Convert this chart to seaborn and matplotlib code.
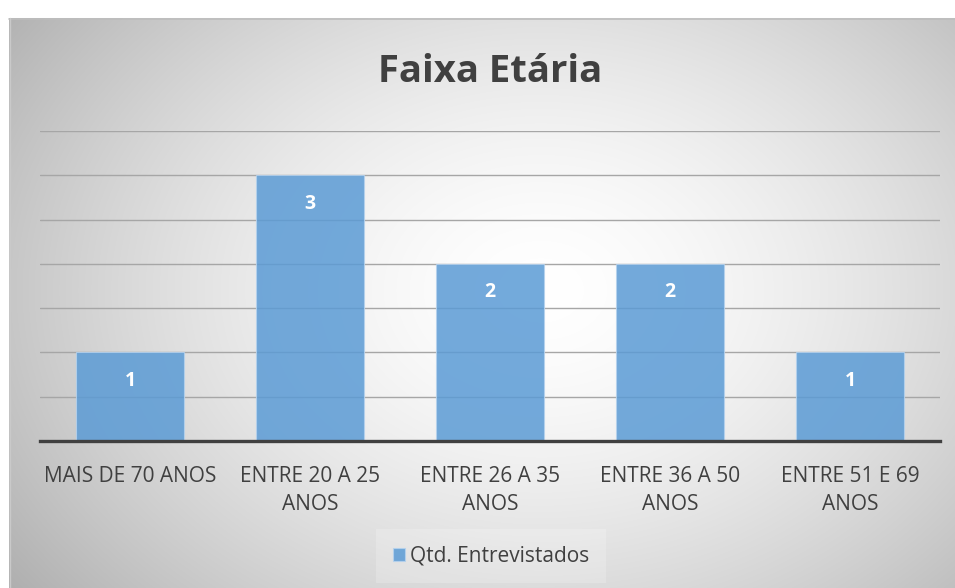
import numpy as np
import matplotlib.pyplot as plt
import seaborn as sns

# data
categories = ["MAIS DE 70 ANOS", "ENTRE 20 A 25\nANOS", "ENTRE 26 A 35\nANOS",
              "ENTRE 36 A 50\nANOS", "ENTRE 51 E 69\nANOS"]
values = [1, 3, 2, 2, 1]
series_name = "Qtd. Entrevistados"
title = "Faixa Etária"

W, H = 955, 588
BAR = "#5b9bd5"
TEXT = "#404040"

sns.set_style("white")
plt.rcParams["font.family"] = ["Open Sans", "DejaVu Sans"]

fig = plt.figure(figsize=(W / 100, H / 100), dpi=100)

# radial gradient background (Excel style)
bg = fig.add_axes([0, 0, 1, 1], zorder=-5)
yy, xx = np.mgrid[0:H, 0:W]
r = np.sqrt(((xx - 540) / 560.0) ** 2 + ((yy - 290) / 420.0) ** 2)
shade = 1.0 - 0.24 * np.clip(r, 0, 1.3) ** 1.6
img = np.dstack([shade] * 3)
img[:18, :] = 1.0
img[:, :9] = 1.0
bg.imshow(img, extent=(0, W, H, 0), aspect="auto", interpolation="bilinear")
bg.plot([9, W], [18.5, 18.5], color="#bdbdbd", lw=1.2)
bg.plot([9.5, 9.5], [18, H], color="#c9c9c9", lw=1.0)
bg.set_xlim(0, W)
bg.set_ylim(H, 0)
bg.axis("off")

ax = fig.add_axes([40 / W, 147 / H, 900 / W, 310 / H])
ax.set_facecolor("none")
sns.barplot(x=categories, y=values, ax=ax, color=BAR, alpha=0.85, width=0.6,
            saturation=1, edgecolor="#b5d2ee", linewidth=0.8, zorder=3)

ax.set_ylim(0, 3.5)
ax.set_xlim(-0.5, 4.5)
ax.set_yticks(np.arange(0, 3.51, 0.5))
ax.set_yticklabels([])
ax.tick_params(axis="y", length=0)
ax.grid(axis="y", color="#a6a6a6", lw=1.0, zorder=1)
ax.set_axisbelow(True)
for s in ["top", "right", "left"]:
    ax.spines[s].set_visible(False)
ax.spines["bottom"].set_color("#404040")
ax.spines["bottom"].set_linewidth(2.4)
ax.spines["bottom"].set_zorder(5)
ax.set_xlabel("")
ax.set_ylabel("")
ax.tick_params(axis="x", length=0, pad=18, labelsize=15, labelcolor=TEXT)
for lab in ax.get_xticklabels():
    lab.set_linespacing(1.45)

# data labels inside end
for i, v in enumerate(values):
    ax.text(i, v - 0.32, str(v), ha="center", va="center", color="white",
            fontsize=14, fontweight="bold", zorder=6)

fig.text(490 / W, 1 - 72 / H, title, ha="center", va="center",
         fontsize=27.5, fontweight="bold", color=TEXT)

leg = fig.legend(handles=ax.containers[0][:1], labels=[series_name],
                 loc="center", bbox_to_anchor=(491 / W, 1 - 556 / H),
                 frameon=True, fontsize=15, handlelength=0.6, handleheight=0.6,
                 handletextpad=0.25, borderpad=0.8)
leg.get_frame().set_facecolor("white")
leg.get_frame().set_alpha(0.2)
leg.get_frame().set_edgecolor("none")
leg.get_frame().set_boxstyle("square", pad=0)
for t in leg.get_texts():
    t.set_color(TEXT)

fig.savefig("out.png", dpi=100)
